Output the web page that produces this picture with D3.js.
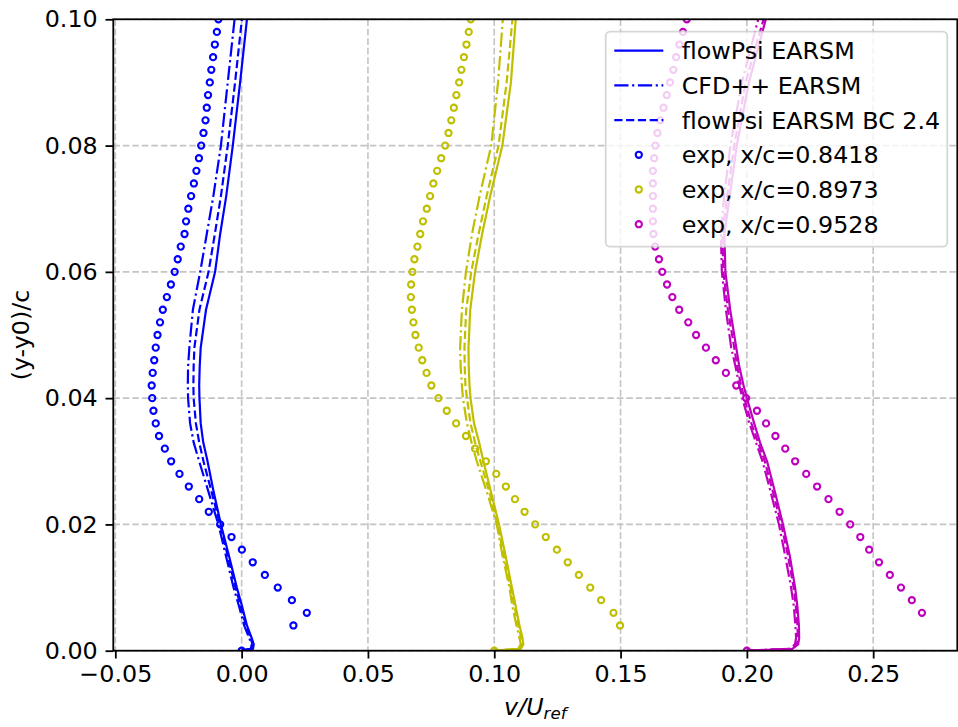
<!DOCTYPE html>
<html>
<head>
<meta charset="utf-8">
<script src="https://cdnjs.cloudflare.com/ajax/libs/d3/7.8.5/d3.min.js"></script>
<style>
  html, body { margin: 0; padding: 0; background: #fff; }
  svg { display: block; font-family: "DejaVu Sans", sans-serif; }
</style>
</head>
<body>
<svg id="chart" width="958" height="727"></svg>
<script>
// ---- data (v/Uref as plotted, stations shifted by 0.1 each) ----
const yCfd = [0, 0.0003, 0.001, 0.002, 0.004, 0.007, 0.010, 0.015, 0.020, 0.025, 0.030, 0.033,
  0.036, 0.040, 0.042, 0.045, 0.048, 0.054, 0.060, 0.066, 0.072, 0.080, 0.090, 0.100];

const flowPsi_8418 = [0, 0.0045, 0.0048, 0.0040, 0.0021, 0.0002, -0.0019, -0.0050, -0.0082, -0.0110,
  -0.0135, -0.0152, -0.0162, -0.0167, -0.0168, -0.0166, -0.0162, -0.0141, -0.0105, -0.0085, -0.0061,
  -0.0035, -0.0006, 0.0021];
const cfdpp_8418 = [0, 0.0036, 0.0040, 0.0030, 0.0010, -0.0010, -0.0032, -0.0062, -0.0092, -0.0130,
  -0.0168, -0.0190, -0.0204, -0.0212, -0.0213, -0.0212, -0.0207, -0.0193, -0.0164, -0.0138, -0.0112,
  -0.0082, -0.0055, -0.0028];
const flowPsiBC_8418 = [0, 0.0040, 0.0043, 0.0036, 0.0017, -0.0003, -0.0024, -0.0055, -0.0085, -0.0118,
  -0.0151, -0.0168, -0.0181, -0.0190, -0.0191, -0.0190, -0.0187, -0.0167, -0.0131, -0.0106, -0.0082,
  -0.0055, -0.0026, 0.0001];

const flowPsi_8973 = [0.1, 0.1105, 0.1115, 0.1112, 0.1100, 0.1085, 0.1070, 0.1045, 0.1019, 0.0988,
  0.0957, 0.0940, 0.0920, 0.0906, 0.0902, 0.0899, 0.0898, 0.0905, 0.0924, 0.0952, 0.0984, 0.1032,
  0.1066, 0.1085];
const cfdpp_8973 = [0.1, 0.1095, 0.1105, 0.1100, 0.1088, 0.1072, 0.1060, 0.1033, 0.1010, 0.0972,
  0.0931, 0.0910, 0.0892, 0.0876, 0.0872, 0.0867, 0.0865, 0.0872, 0.0888, 0.0912, 0.0942, 0.0988,
  0.1015, 0.1034];
const flowPsiBC_8973 = [0.1, 0.1100, 0.1110, 0.1107, 0.1095, 0.1080, 0.1065, 0.1038, 0.1013, 0.0982,
  0.0945, 0.0924, 0.0906, 0.0892, 0.0886, 0.0883, 0.0882, 0.0889, 0.0909, 0.0938, 0.0970, 0.1017,
  0.1049, 0.1072];

const flowPsi_9528 = [0.2, 0.2180, 0.2203, 0.2207, 0.2206, 0.2200, 0.2191, 0.2170, 0.2143, 0.2112,
  0.2080, 0.2052, 0.2029, 0.2000, 0.1987, 0.1970, 0.1958, 0.1934, 0.1915, 0.1911, 0.1932, 0.1960,
  0.2008, 0.2075];
const cfdpp_9528 = [0.2, 0.2170, 0.2190, 0.2195, 0.2192, 0.2186, 0.2175, 0.2152, 0.2127, 0.2095,
  0.2062, 0.2036, 0.2010, 0.1982, 0.1970, 0.1955, 0.1938, 0.1917, 0.1901, 0.1897, 0.1910, 0.1935,
  0.1980, 0.2045];
const flowPsiBC_9528 = [0.2, 0.2175, 0.2198, 0.2202, 0.2200, 0.2194, 0.2185, 0.2163, 0.2136, 0.2104,
  0.2071, 0.2044, 0.2018, 0.1990, 0.1977, 0.1962, 0.1950, 0.1925, 0.1907, 0.1903, 0.1922, 0.1950,
  0.1995, 0.2066];

const yExp = [0, 0.002, 0.004, 0.006, 0.008, 0.010, 0.012, 0.014, 0.016, 0.018, 0.020, 0.022, 0.024,
  0.026, 0.028, 0.030, 0.032, 0.034, 0.036, 0.038, 0.040, 0.042, 0.044, 0.046, 0.048, 0.050, 0.052,
  0.054, 0.056, 0.058, 0.060, 0.062, 0.064, 0.066, 0.068, 0.070, 0.072, 0.074, 0.076, 0.078, 0.080,
  0.082, 0.084, 0.086, 0.088, 0.090, 0.092, 0.094, 0.096, 0.098, 0.100];

const exp_8418 = [0.0000, null, 0.0205, 0.0258, 0.0199, 0.0143, 0.0092, 0.0044, 0.0001, -0.0040,
  -0.0085, -0.0130, -0.0168, -0.0209, -0.0246, -0.0279, -0.0304, -0.0327, -0.0340, -0.0349, -0.0354,
  -0.0356, -0.0352, -0.0346, -0.0340, -0.0333, -0.0323, -0.0312, -0.0296, -0.0280, -0.0265, -0.0253,
  -0.0241, -0.0226, -0.0220, -0.0211, -0.0200, -0.0189, -0.0179, -0.0169, -0.0160, -0.0151, -0.0143,
  -0.0138, -0.0133, -0.0126, -0.0120, -0.0113, -0.0106, -0.0098, -0.0092];
const exp_8973 = [0.1000, null, 0.1498, 0.1472, 0.1423, 0.1380, 0.1335, 0.1291, 0.1248, 0.1204,
  0.1162, 0.1120, 0.1082, 0.1046, 0.1008, 0.0967, 0.0924, 0.0888, 0.0849, 0.0812, 0.0779, 0.0751,
  0.0732, 0.0715, 0.0701, 0.0688, 0.0680, 0.0674, 0.0670, 0.0671, 0.0676, 0.0684, 0.0696, 0.0707,
  0.0718, 0.0733, 0.0746, 0.0759, 0.0774, 0.0790, 0.0806, 0.0819, 0.0830, 0.0840, 0.0850, 0.0861,
  0.0870, 0.0880, 0.0890, 0.0899, 0.0907];
const exp_9528 = [0.2000, null, null, 0.2693, 0.2653, 0.2610, 0.2566, 0.2523, 0.2484, 0.2449,
  0.2409, 0.2367, 0.2323, 0.2278, 0.2235, 0.2191, 0.2152, 0.2113, 0.2076, 0.2040, 0.1997, 0.1958,
  0.1917, 0.1877, 0.1838, 0.1799, 0.1768, 0.1732, 0.1705, 0.1684, 0.1665, 0.1652, 0.1637, 0.1630,
  0.1628, 0.1628, 0.1628, 0.1628, 0.1628, 0.1633, 0.1638, 0.1646, 0.1657, 0.1670, 0.1683, 0.1696,
  0.1709, 0.1720, 0.1733, 0.1747, 0.1762];

const xTicks = [-0.05, 0.00, 0.05, 0.10, 0.15, 0.20, 0.25];
const yTicks = [0.00, 0.02, 0.04, 0.06, 0.08, 0.10];

const legendLabels = ["flowPsi EARSM", "CFD++ EARSM", "flowPsi EARSM BC 2.4",
  "exp, x/c=0.8418", "exp, x/c=0.8973", "exp, x/c=0.9528"];

// ---- styling ----
const COLORS = { b: "#0000ff", y: "#bfbf00", m: "#bf00bf" };
const DASH = { solid: null, dashdot: "14.2,3.6,2.2,3.6", dashed: "8.2,3.6" };
const LW = 2.2;
const FONT = 23.8;
const plot = { left: 113.3, right: 957.3, top: 19.3, bottom: 650.7 };

const svg = d3.select("#chart");

const x = d3.scaleLinear().domain([-0.0508, 0.2833]).range([plot.left, plot.right]);
const y = d3.scaleLinear().domain([0, 0.1]).range([plot.bottom, plot.top]);

svg.append("defs").append("clipPath").attr("id", "clip")
  .append("rect")
  .attr("x", plot.left).attr("y", plot.top)
  .attr("width", plot.right - plot.left).attr("height", plot.bottom - plot.top);

// grid
const grid = svg.append("g").attr("class", "grid")
  .attr("stroke", "#c4c4c4").attr("stroke-width", 1.6).attr("stroke-dasharray", "6.6,2.9");
xTicks.forEach((t) => {
  grid.append("line").attr("x1", x(t)).attr("x2", x(t)).attr("y1", plot.top).attr("y2", plot.bottom);
});
yTicks.forEach((t) => {
  grid.append("line").attr("x1", plot.left).attr("x2", plot.right).attr("y1", y(t)).attr("y2", y(t));
});

const dataLayer = svg.append("g").attr("clip-path", "url(#clip)");

const curve = (vals, ys, color, dash) => {
  const pts = vals.map((v, i) => [v, ys[i]]);
  const line = d3.line()
    .defined((d) => d[0] !== null)
    .x((d) => x(d[0]))
    .y((d) => y(d[1]));
  dataLayer.append("path")
    .datum(pts)
    .attr("d", line)
    .attr("fill", "none")
    .attr("stroke", color)
    .attr("stroke-width", LW)
    .attr("stroke-dasharray", dash)
    .attr("stroke-linejoin", "round");
};

const markers = (vals, color) => {
  const pts = vals.map((v, i) => [v, yExp[i]]).filter((d) => d[0] !== null);
  dataLayer.append("g").selectAll("circle")
    .data(pts)
    .join("circle")
    .attr("cx", (d) => x(d[0]))
    .attr("cy", (d) => y(d[1]))
    .attr("r", 3.1)
    .attr("fill", "none")
    .attr("stroke", color)
    .attr("stroke-width", 2.1);
};

const stations = [
  { color: COLORS.b, solid: flowPsi_8418, dashdot: cfdpp_8418, dashed: flowPsiBC_8418, exp: exp_8418 },
  { color: COLORS.y, solid: flowPsi_8973, dashdot: cfdpp_8973, dashed: flowPsiBC_8973, exp: exp_8973 },
  { color: COLORS.m, solid: flowPsi_9528, dashdot: cfdpp_9528, dashed: flowPsiBC_9528, exp: exp_9528 },
];
stations.forEach((s) => {
  curve(s.solid, yCfd, s.color, DASH.solid);
  curve(s.dashdot, yCfd, s.color, DASH.dashdot);
  curve(s.dashed, yCfd, s.color, DASH.dashed);
  markers(s.exp, s.color);
});

// axes
const xAxis = d3.axisBottom(x).tickValues(xTicks).tickFormat(d3.format(".2f"))
  .tickSize(7.8).tickPadding(6);
const yAxis = d3.axisLeft(y).tickValues(yTicks).tickFormat(d3.format(".2f"))
  .tickSize(7.8).tickPadding(7.8);

const gx = svg.append("g").attr("transform", `translate(0,${plot.bottom})`).call(xAxis);
const gy = svg.append("g").attr("transform", `translate(${plot.left},0)`).call(yAxis);
[gx, gy].forEach((g) => {
  g.select(".domain").remove();
  g.selectAll(".tick line").attr("stroke", "#000").attr("stroke-width", 1.8);
  g.selectAll(".tick text").attr("fill", "#000")
    .style("font-size", FONT + "px").style("font-family", "DejaVu Sans, sans-serif");
});
gx.selectAll(".tick text").attr("dy", "0.74em");

// frame
svg.append("rect")
  .attr("x", plot.left).attr("y", plot.top)
  .attr("width", plot.right - plot.left).attr("height", plot.bottom - plot.top)
  .attr("fill", "none").attr("stroke", "#000").attr("stroke-width", 1.8);

// axis labels
const xl = svg.append("text")
  .attr("x", (plot.left + plot.right) / 2)
  .attr("y", 715)
  .attr("text-anchor", "middle")
  .style("font-size", FONT + "px")
  .style("font-style", "italic");
xl.append("tspan").text("v/U");
xl.append("tspan").attr("dy", 4).style("font-size", (FONT * 0.7) + "px").text("ref");

svg.append("text")
  .attr("transform", `translate(29,${(plot.top + plot.bottom) / 2}) rotate(-90)`)
  .attr("text-anchor", "middle")
  .style("font-size", FONT + "px")
  .text("(y-y0)/c");

// legend
const lg = svg.append("g").attr("class", "legend");
lg.append("rect")
  .attr("x", 605.7).attr("y", 31.7)
  .attr("width", 341.6).attr("height", 215)
  .attr("rx", 4.4).attr("ry", 4.4)
  .attr("fill", "#fff").attr("fill-opacity", 0.8)
  .attr("stroke", "#cccccc").attr("stroke-opacity", 0.8).attr("stroke-width", 1.8);

const legendHandles = [
  { type: "line", color: COLORS.b, dash: DASH.solid },
  { type: "line", color: COLORS.b, dash: DASH.dashdot },
  { type: "line", color: COLORS.b, dash: DASH.dashed },
  { type: "marker", color: COLORS.b },
  { type: "marker", color: COLORS.y },
  { type: "marker", color: COLORS.m },
];
legendLabels.forEach((label, i) => {
  const cy = 50.7 + i * 34.7;
  const h = legendHandles[i];
  if (h.type === "line") {
    lg.append("line")
      .attr("x1", 614.3).attr("x2", 663.3).attr("y1", cy).attr("y2", cy)
      .attr("stroke", h.color).attr("stroke-width", LW).attr("stroke-dasharray", h.dash);
  } else {
    lg.append("circle")
      .attr("cx", 638.8).attr("cy", cy).attr("r", 3.1)
      .attr("fill", "none").attr("stroke", h.color).attr("stroke-width", 2.1);
  }
  lg.append("text")
    .attr("x", 681.7).attr("y", cy)
    .attr("dy", "0.36em")
    .style("font-size", FONT + "px")
    .text(label);
});
</script>
</body>
</html>
